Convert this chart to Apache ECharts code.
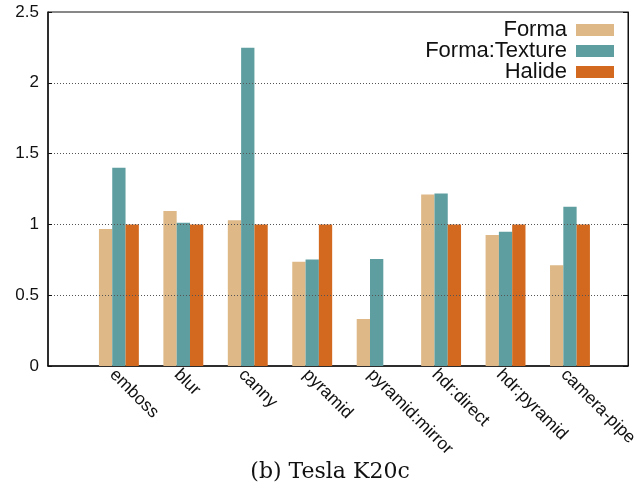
<!DOCTYPE html>
<html>
<head>
<meta charset="utf-8">
<script src="https://cdn.jsdelivr.net/npm/echarts@6/dist/echarts.min.js"></script>
<style>
  html, body { margin: 0; padding: 0; background: #fff; }
  #chart { width: 644px; height: 489px; }
</style>
</head>
<body>
<div id="chart"></div>
<script>
// Benchmark names along the x axis
const categories = ['emboss', 'blur', 'canny', 'pyramid', 'pyramid:mirror', 'hdr:direct', 'hdr:pyramid', 'camera-pipe'];
// Series names
const seriesNames = ['Forma', 'Forma:Texture', 'Halide'];
// Relative performance (normalised to Halide)
const forma = [0.967, 1.095, 1.029, 0.737, 0.332, 1.212, 0.925, 0.711];
const formaTexture = [1.40, 1.012, 2.248, 0.753, 0.756, 1.219, 0.948, 1.125];
const halide = [1, 1, 1, 1, null, 1, 1, 1];
// Y axis range and step
const yMin = 0, yMax = 2.5, yStep = 0.5;

const colors = ['#deb887', '#5f9ea0', '#d2691e'];
const sans = 'Liberation Sans, Arial, Helvetica, sans-serif';

const chart = echarts.init(document.getElementById('chart'), null, { renderer: 'canvas' });

const option = {
  animation: false,
  backgroundColor: '#fff',
  title: {
    text: '(b) Tesla K20c',
    left: 325,
    textAlign: 'center',
    top: 456,
    textStyle: { fontFamily: 'DejaVu Serif, serif', fontSize: 22, fontWeight: 'normal', color: '#111' }
  },
  legend: {
    data: seriesNames,
    orient: 'vertical',
    right: 25,
    top: 14,
    align: 'right',
    itemWidth: 38,
    itemHeight: 12,
    itemGap: -1,
    icon: 'rect',
    selectedMode: false,
    textStyle: { fontFamily: sans, fontSize: 22, lineHeight: 21.5, color: '#111', padding: [0, 4, 0, 0] }
  },
  grid: [
    // frame, y scale and benchmark labels
    { left: 48, right: 16, top: 12, bottom: 123, show: true, borderColor: '#111', borderWidth: 1, containLabel: false },
    // clustered bars
    { left: 86.67, right: 41.8, top: 12, bottom: 123, containLabel: false }
  ],
  xAxis: [
    {
      gridIndex: 0,
      type: 'value',
      min: -1,
      max: 8,
      interval: 1,
      axisLine: { show: true, onZero: false, lineStyle: { color: '#111', width: 1.5 } },
      axisTick: { show: false },
      splitLine: { show: false },
      axisLabel: {
        rotate: -45,
        margin: 6,
        fontFamily: sans,
        fontSize: 17.5,
        color: '#111',
        showMinLabel: true,
        showMaxLabel: true,
        formatter: v => categories[Math.round(v)] || ''
      }
    },
    {
      gridIndex: 1,
      type: 'category',
      data: categories,
      show: false
    }
  ],
  yAxis: [
    {
      gridIndex: 0,
      type: 'value',
      min: yMin,
      max: yMax,
      interval: yStep,
      z: 5,
      axisLine: { show: true, onZero: false, lineStyle: { color: '#111', width: 1.5 } },
      axisTick: { show: true, inside: true, length: 4, lineStyle: { color: '#111' } },
      axisLabel: {
        margin: 9,
        fontFamily: sans,
        fontSize: 17,
        color: '#111',
        formatter: v => String(v)
      },
      splitLine: {
        show: true,
        showMinLine: false,
        showMaxLine: false,
        lineStyle: { color: '#555', width: 1, type: [1, 2] }
      }
    },
    {
      gridIndex: 0,
      type: 'value',
      position: 'right',
      min: yMin,
      max: yMax,
      interval: yStep,
      z: 5,
      axisLine: { show: true, onZero: false, lineStyle: { color: '#111', width: 1 } },
      axisTick: { show: true, inside: true, length: 5, lineStyle: { color: '#111' } },
      axisLabel: { show: false },
      splitLine: { show: false }
    },
    {
      gridIndex: 1,
      type: 'value',
      min: yMin,
      max: yMax,
      show: false,
      splitLine: { show: false }
    }
  ],
  series: [forma, formaTexture, halide].map((data, i) => ({
    name: seriesNames[i],
    type: 'bar',
    xAxisIndex: 1,
    yAxisIndex: 2,
    data: data,
    barWidth: 13.3,
    barGap: '0%',
    itemStyle: { color: colors[i] }
  }))
};

chart.setOption(option);
</script>
</body>
</html>
